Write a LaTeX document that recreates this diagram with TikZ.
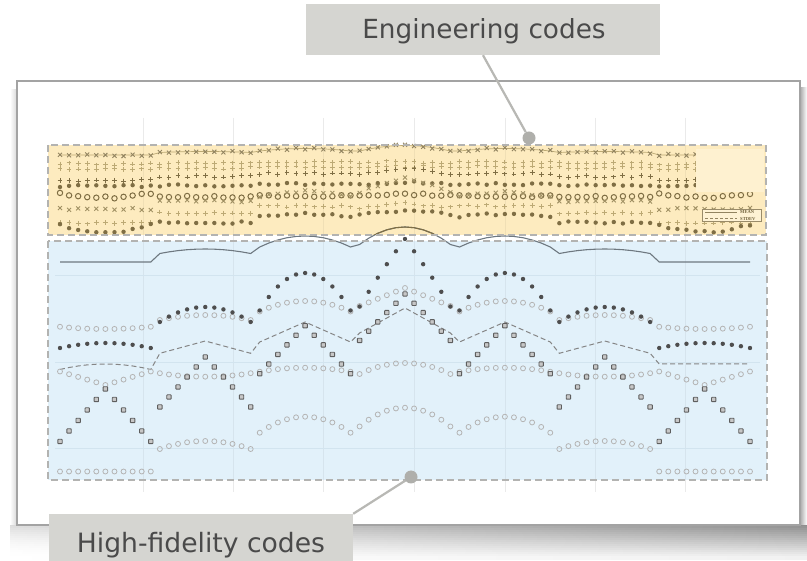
\documentclass[tikz,border=0pt]{standalone}
\usepackage{fontspec}
\setmainfont{DejaVu Sans}
\newfontfamily\legfont{Liberation Serif}
\definecolor{yfill}{HTML}{FDEBBF}
\definecolor{bfill}{HTML}{E2F1FA}
\definecolor{bandline}{HTML}{B3B3B1}
\definecolor{boxfill}{HTML}{D5D5D1}
\definecolor{boxtext}{HTML}{4A4A4A}
\definecolor{connc}{HTML}{B8B8B4}
\definecolor{framec}{HTML}{A3A3A3}
\definecolor{ydark}{HTML}{7F6E44}
\definecolor{ylight}{HTML}{BCA974}
\definecolor{meanc}{HTML}{6E7880}
\definecolor{stdc}{HTML}{858585}
\definecolor{stardark}{HTML}{4E4E4E}
\definecolor{circlec}{HTML}{B4B4B4}
\definecolor{sqc}{HTML}{5E5E5E}
\definecolor{bgrid}{HTML}{D2E4EF}
\definecolor{vgrid}{HTML}{EAEAEA}
\definecolor{legfill}{HTML}{FEF2D4}
\definecolor{lightbox}{HTML}{FEF1D0}
\newcommand\setpt{\pgfmathtruncatemacro\gk{(\i+0.5)/11}\pgfmathsetmacro\ad{abs(\i-11*\gk-5)}\pgfmathsetmacro\xx{60+\i*9.07895}}
\newcommand\calcy[3]{\pgfmathsetmacro\yv{{#1}[\gk]+{#2}[\gk]*\ad+{#3}[\gk]*\ad*\ad}}
\newcommand\calcyj[3]{\pgfmathsetmacro\yv{{#1}[\gk]+{#2}[\gk]*\ad+{#3}[\gk]*\ad*\ad+1.1*rand}}
\newcommand\series[4]{\foreach \i in {0,...,76}{\setpt\calcy{#1}{#2}{#3}#4}}
\newcommand\yseries[4]{\foreach \i in {0,...,76}{\setpt\calcyj{#1}{#2}{#3}#4}}
\newcommand\seriespath[4]{\gdef\pth{}\foreach \i in {0,...,76}{\setpt\calcy{#1}{#2}{#3}\ifnum\i=0 \xdef\pth{(\xx,\yv)}\else\xdef\pth{\pth -- (\xx,\yv)}\fi}\edef\tmp{\noexpand\draw[#4] \pth;}\tmp}
\newcommand\mstar{\fill[stardark] (\xx,\yv) circle (2.2pt);}
\newcommand\mcirc{\draw[circlec, line width=0.8pt] (\xx,\yv) circle (2.5pt);}
\newcommand\msq{\draw[sqc, fill=black!22, line width=0.9pt, rounded corners=0.6pt] (\xx,\yv) ++(-2.2,-2.2) rectangle ++(4.4,4.4);}
\newcommand\yx[1]{\draw[#1, line width=0.9pt] (\xx,\yv) ++(-2,-2) -- ++(4,4) (\xx,\yv) ++(-2,2) -- ++(4,-4);}
\newcommand\yplus[1]{\draw[#1, line width=1pt] (\xx,\yv) ++(-2.4,0) -- ++(4.8,0) (\xx,\yv) ++(0,-2.4) -- ++(0,4.8);}
\newcommand\ystar{\fill[ydark] (\xx,\yv) circle (2.2pt);}
\newcommand\ycirc{\draw[ydark, line width=1pt] (\xx,\yv) circle (2.7pt);}
\tikzset{
  labelbox/.style={fill=boxfill, draw=none, inner sep=0pt},
  labeltext/.style={text=boxtext, inner sep=0pt},
  conn/.style={draw=connc, line width=2.2pt},
  dotc/.style={circle, fill=connc!95!black, draw=none, minimum size=13pt, inner sep=0pt},
  bandborder/.style={draw=bandline, line width=2.2pt, dash pattern=on 7pt off 4pt},
  meanline/.style={draw=meanc, line width=1.1pt},
  stdline/.style={draw=stdc, line width=1pt, dash pattern=on 5pt off 3pt},
  legbox/.style={draw=ydark!80, fill=legfill, line width=0.5pt, inner sep=0pt, minimum width=59pt, minimum height=12.5pt},
  legtext/.style={text=ydark!90!black, font=\legfont\bfseries\fontsize{4.6}{5}\selectfont, inner sep=0pt, anchor=west}
}
\begin{document}
\begin{tikzpicture}[x=1pt,y=-1pt]
\pgfmathsetseed{7}
\useasboundingbox (0,0) rectangle (807,561);
\fill[white] (0,0) rectangle (807,561);
% shadow (bottom, stronger on the right)
\foreach \j in {0,...,17}{
  \pgfmathsetmacro\tt{\j/18}
  \pgfmathsetmacro\la{16*(1-\tt)*(1-\tt)}
  \pgfmathsetmacro\ma{30*(1-\tt)*(1-\tt)}
  \pgfmathsetmacro\ra{44*(1-\tt)+3}
  \pgfmathsetmacro\ya{523+2*\j}
  \shade[left color=black!\la, middle color=black!\ma, right color=black!\ra] (10,\ya) rectangle (807,\ya+2.05);
}
\shade[left color=black!38, right color=white] (799,88) rectangle (807,525);
\shade[left color=white, right color=black!16] (10,90) rectangle (17,525);
% frame
\draw[draw=framec, line width=1.8pt, fill=white] (17,81) rectangle (800,525);
% vertical grid
\foreach \gx in {143,233,323,414,505,595,685}{\draw[vgrid, line width=0.8pt] (\gx,118) -- (\gx,492);}
% bands
\fill[yfill] (48,145) rectangle (766,235);
\fill[bfill] (48,241) rectangle (767,480);
\foreach \gx in {143,233,323,414,505,595,685}{\draw[black, opacity=0.05, line width=0.8pt] (\gx,145) -- (\gx,235) (\gx,241) -- (\gx,480);}
\foreach \gy in {275,362,448}{\draw[bgrid, line width=0.8pt] (55,\gy) -- (760,\gy);}
% ---------- blue panel series ----------
\seriespath{262,249,236,227,236,249,262}{0,0,0,0,0,0,0}{0,0.18,0.44,0.7,0.44,0.18,0}{meanline}
\seriespath{364,341,322,308,322,341,364}{0,2.46,4,5,4,2.46,0}{0.22,0,0,0,0,0,0}{stdline}
\series{329,315,301,288,301,315,329}{0,0,0,3.6,0,0,0}{-0.09,0.2,0.42,0,0.42,0.2,-0.09}{\mcirc}
\series{385,376.7,367.7,363,367.7,376.7,385}{-2.7,0,0,0,0,0,-2.7}{0,-0.14,0.16,0.44,0.16,-0.14,0}{\mcirc}
\series{471.5,441,416.7,407.7,416.7,441,471.5}{0,0,0,0,0,0,0}{0,0.32,0.64,0.75,0.64,0.32,0}{\mcirc}
\series{389,357,325.7,294,325.7,357,389}{10.5,10,9.6,9.3,9.6,10,10.5}{0,0,0,0,0,0,0}{\msq}
\series{343,307,273,239,273,307,343}{0,0,0,12,0,0,0}{0.2,0.6,1.5,0.3,1.5,0.6,0.2}{\mstar}
% ---------- yellow panel markers ----------
\seriespath{155,151.5,148.5,145.5,148.5,151.5,155}{0,0,0,0,0,0,0}{0,0.04,0.1,0.22,0.1,0.04,0}{draw=ylight, line width=0.7pt}
\yseries{155,151.5,148.5,145.5,148.5,151.5,155}{0,0,0,0,0,0,0}{0,0.04,0.1,0.22,0.1,0.04,0}{\yx{ydark!85}}
\yseries{164,163.5,162.5,161,162.5,163.5,164}{0,0,0,0.5,0,0,0}{0,0,0,0,0,0,0}{\yplus{ylight}}
\yseries{169,168,167,166.5,167,168,169}{0,0,0,0,0,0,0}{0,0,0,0,0,0,0}{\yplus{ylight}}
\yseries{180,176.5,173,168,173,176.5,180}{0,0,0,1.2,0,0,0}{0,0,0.03,0,0.03,0,0}{\yplus{ydark}}
\yseries{186,185.5,184,182,184,185.5,186}{0,0,0,0.5,0,0,0}{0,0,0,0,0,0,0}{\ystar}
\yseries{197.5,197,196,194.5,196,197,197.5}{0,0,0,0,0,0,0}{-0.18,0,0,0.03,0,0,-0.18}{\ycirc}
\yseries{209,201,191,177,191,201,209}{0,0,1,3,1,0,0}{0,0,0,0,0,0,0}{\yx{ylight!85!black}}
\yseries{223,213,206,203,206,213,223}{0,0,0,1,0,0,0}{0,0,0,0,0,0,0}{\yplus{ylight}}
\yseries{232,222.5,214,211,214,222.5,232}{0,0,0,0,0,0,0}{-0.3,0,0.1,0.15,0.1,0,-0.3}{\ystar}
% mean line portion in yellow band
\begin{scope}
\clip (48,145) rectangle (766,235);
\seriespath{262,249,236,227,236,249,262}{0,0,0,0,0,0,0}{0,0.18,0.44,0.7,0.44,0.18,0}{draw=ydark, line width=1.1pt}
\end{scope}
% light box and legend
\fill[lightbox] (696,149) rectangle (764,192);
\node[legbox] (leg) at (731.5,215.3) {};
\coordinate (l1a) at (705,212.2);
\coordinate (l1b) at (737,212.2);
\coordinate (l2a) at (705,218.6);
\coordinate (l2b) at (737,218.6);
\draw[ydark!85, line width=0.6pt] (l1a) -- (l1b);
\draw[ydark!85, line width=0.6pt, dash pattern=on 3pt off 2pt] (l2a) -- (l2b);
\node[legtext] (legm) at (740,212.2) {MEAN};
\node[legtext] (legs) at (740,218.6) {STDEV};
% band borders
\draw[bandborder] (48,145) rectangle (766,235);
\draw[bandborder] (48,241) rectangle (767,480);
% labels
\node[labelbox, minimum width=354pt, minimum height=51pt] (eng) at (483,29.5) {};
\node[labeltext, font=\fontsize{26.3}{32}\selectfont] (engt) at (484,31.5) {Engineering codes};
\node[dotc] (d1) at (529,138) {};
\draw[conn] (eng.south) -- (d1);
\node[labelbox, minimum width=304pt, minimum height=61pt] (hf) at (201,544.5) {};
\node[labeltext, font=\fontsize{26.6}{32}\selectfont] (hft) at (201,545) {High-fidelity codes};
\node[dotc] (d2) at (411,477) {};
\draw[conn] (hf.north east) -- (d2);
\end{tikzpicture}
\end{document}
